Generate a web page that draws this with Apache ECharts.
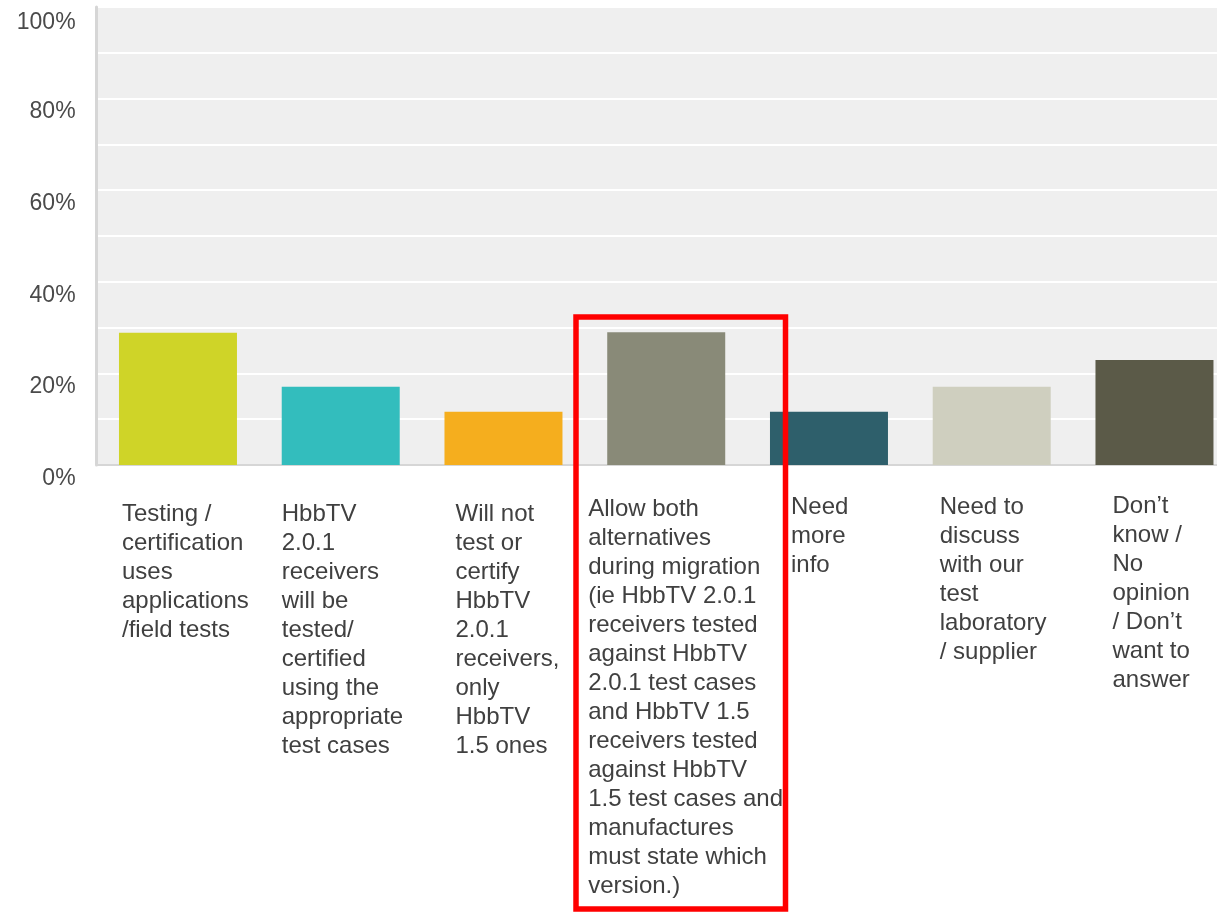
<!DOCTYPE html>
<html>
<head>
<meta charset="utf-8">
<script src="https://cdn.jsdelivr.net/npm/echarts@6/dist/echarts.min.js"></script>
<style>
html,body{margin:0;padding:0;background:#fff;overflow:hidden;}
#chart{width:1240px;height:913px;}
</style>
</head>
<body>
<div id="chart"></div>
<script>
const categories = [
  "Testing /\ncertification\nuses\napplications\n/field tests",
  "HbbTV\n2.0.1\nreceivers\nwill be\ntested/\ncertified\nusing the\nappropriate\ntest cases",
  "Will not\ntest or\ncertify\nHbbTV\n2.0.1\nreceivers,\nonly\nHbbTV\n1.5 ones",
  "Allow both\nalternatives\nduring migration\n(ie HbbTV 2.0.1\nreceivers tested\nagainst HbbTV\n2.0.1 test cases\nand HbbTV 1.5\nreceivers tested\nagainst HbbTV\n1.5 test cases and\nmanufactures\nmust state which\nversion.)",
  "Need\nmore\ninfo",
  "Need to\ndiscuss\nwith our\ntest\nlaboratory\n/ supplier",
  "Don\u2019t\nknow /\nNo\nopinion\n/ Don\u2019t\nwant to\nanswer"
];
const values = [28.9, 17.1, 11.6, 29.0, 11.6, 17.1, 22.9];
const yTickLabels = ["0%", "20%", "40%", "60%", "80%", "100%"];

// styling / layout (not data)
const barColors = ["#cfd428", "#33bdbd", "#f5ae1e", "#898a78", "#2e5f6b", "#cfcfbf", "#5b5a48"];
const labelShiftX = [-56, -59, -48, -78, -38, -52, -42];
const labelShiftY = [11, 11, 11, 6, 4, 4, 3];

const yFont = { fontFamily: 'Liberation Sans, Arial, sans-serif', fontSize: 23, color: '#4a4a4a' };

const chart = echarts.init(document.getElementById('chart'), null, {renderer: 'canvas'});
const option = {
  animation: false,
  backgroundColor: '#ffffff',
  grid: {
    left: 96.6, top: 7, width: 1139.25, height: 458,
    show: true, backgroundColor: '#efefef', borderWidth: 0
  },
  xAxis: {
    type: 'category',
    data: categories.map((c, i) => ({
      value: c,
      textStyle: {
        align: 'left',
        verticalAlign: 'top',
        padding: [labelShiftY[i], 0, 0, labelShiftX[i]]
      }
    })),
    axisLine: { show: true, lineStyle: { color: '#d6d6d6', width: 2 } },
    axisTick: { show: false },
    axisLabel: {
      interval: 0,
      margin: 24,
      align: 'left',
      verticalAlign: 'top',
      fontFamily: 'Liberation Sans, Arial, sans-serif',
      fontSize: 24,
      lineHeight: 29,
      color: '#404040'
    }
  },
  yAxis: {
    type: 'value',
    min: 0, max: 100, interval: 10,
    axisLine: { show: true, lineStyle: { color: '#d6d6d6', width: 3 } },
    axisTick: { show: false },
    splitLine: { show: true, lineStyle: { color: '#ffffff', width: 2 } },
    axisLabel: {
      margin: 21,
      fontFamily: yFont.fontFamily,
      fontSize: 23,
      lineHeight: 27,
      color: yFont.color,
      verticalAlign: 'top',
      formatter: v => {
        if (v % 20 !== 0) return '';
        const t = yTickLabels[v / 20];
        return v === 100 ? '{top|' + t + '}' : t;
      },
      rich: {
        top: Object.assign({ lineHeight: 27, padding: [5, 0, 0, 0] }, yFont)
      }
    }
  },
  series: [{
    type: 'bar',
    data: values,
    barWidth: '72.5%',
    itemStyle: { color: p => barColors[p.dataIndex] }
  }],
  graphic: [{
    type: 'rect',
    shape: { x: 576, y: 317, width: 209.5, height: 592 },
    style: { fill: 'none', stroke: '#ff0000', lineWidth: 5.5 },
    z: 100
  }]
};
chart.setOption(option);
</script>
</body>
</html>
